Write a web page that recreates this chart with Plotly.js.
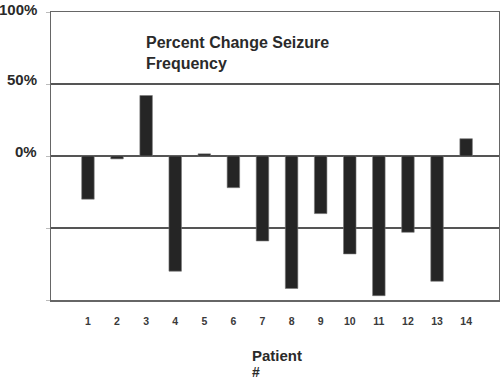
<!DOCTYPE html>
<html>
<head>
<meta charset="utf-8">
<script src="https://cdn.plot.ly/plotly-3.0.1.min.js"></script>
<style>html,body{margin:0;padding:0;background:#fff;}#chart{width:500px;height:379px;}</style>
</head>
<body>
<div id="chart"></div>
<script>
var patients = [1,2,3,4,5,6,7,8,9,10,11,12,13,14];
var tickLabels = ['1','2','3','4','5','6','7','8','9','10','11','12','13','14'];
var percentChange = [-30,-2,42,-80,1.5,-22,-59,-92,-40,-68,-97,-53,-87,12];
var yTickVals = [-100,-50,0,50,100];
var yLabelVals = [0,50,100];
var yLabelText = ['0%','50%','100%'];

var L = 51, R = 1, T = 12, B = 79, W = 500, H = 379;
var plotW = W - L - R, plotH = H - T - B;
var FONT = 'Liberation Sans, Arial, sans-serif';

var trace = {
  type: 'bar',
  x: patients,
  y: percentChange,
  width: 0.43,
  marker: {color: '#252525', line: {color: '#777', width: 0.6}},
  hoverinfo: 'skip'
};

var annotations = yLabelVals.map(function(v, i){
  return {
    xref: 'paper', yref: 'y', x: -12/plotW, y: v, xanchor: 'right', yanchor: 'middle',
    yshift: (v === 100 ? 3 : 5), showarrow: false, text: '<b>' + yLabelText[i] + '</b>',
    font: {family: FONT, size: 15, color: '#2a2a2a'}
  };
});
annotations.push({
  xref: 'paper', yref: 'paper', x: (144 - L)/plotW, y: (H - B - 32)/plotH,
  xanchor: 'left', yanchor: 'top', align: 'left', showarrow: false,
  text: '<b>Percent Change Seizure<br>Frequency</b>',
  font: {family: FONT, size: 16, color: '#2a2a2a'}
});
annotations.push({
  xref: 'paper', yref: 'paper', x: (250 - L)/plotW, y: -(345 - (H - B))/plotH,
  xanchor: 'left', yanchor: 'top', align: 'left', showarrow: false,
  text: '<b>Patient</b>',
  font: {family: FONT, size: 15, color: '#2a2a2a'}
});
annotations.push({
  xref: 'paper', yref: 'paper', x: (250 - L)/plotW, y: -(362 - (H - B))/plotH,
  xanchor: 'left', yanchor: 'top', align: 'left', showarrow: false,
  text: '<b>#</b>',
  font: {family: FONT, size: 14, color: '#2a2a2a'}
});

var layout = {
  width: W, height: H,
  margin: {l: L, r: R, t: T, b: B, pad: 0},
  paper_bgcolor: '#fff', plot_bgcolor: '#fff',
  showlegend: false,
  xaxis: {
    range: [-0.27, 15.13], tickvals: patients,
    ticktext: tickLabels.map(function(s){return '<b>' + s + '</b>';}),
    ticks: '', showgrid: false, zeroline: false,
    showline: true, mirror: true, linecolor: '#666', linewidth: 1.5,
    ticklabelstandoff: 11,
    tickfont: {family: FONT, size: 10.5, color: '#3a3a3a'}
  },
  yaxis: {
    range: [-100, 100], tickvals: yTickVals, ticktext: ['', '', '', '', ''],
    ticks: 'outside', ticklen: 4, tickcolor: '#bbb', tickwidth: 1,
    showgrid: true, gridcolor: '#555', gridwidth: 1.5,
    zeroline: true, zerolinecolor: '#555', zerolinewidth: 1.5,
    showline: true, mirror: true, linecolor: '#666', linewidth: 1.5
  },
  annotations: annotations
};

Plotly.newPlot('chart', [trace], layout, {displayModeBar: false, staticPlot: true});
</script>
</body>
</html>
